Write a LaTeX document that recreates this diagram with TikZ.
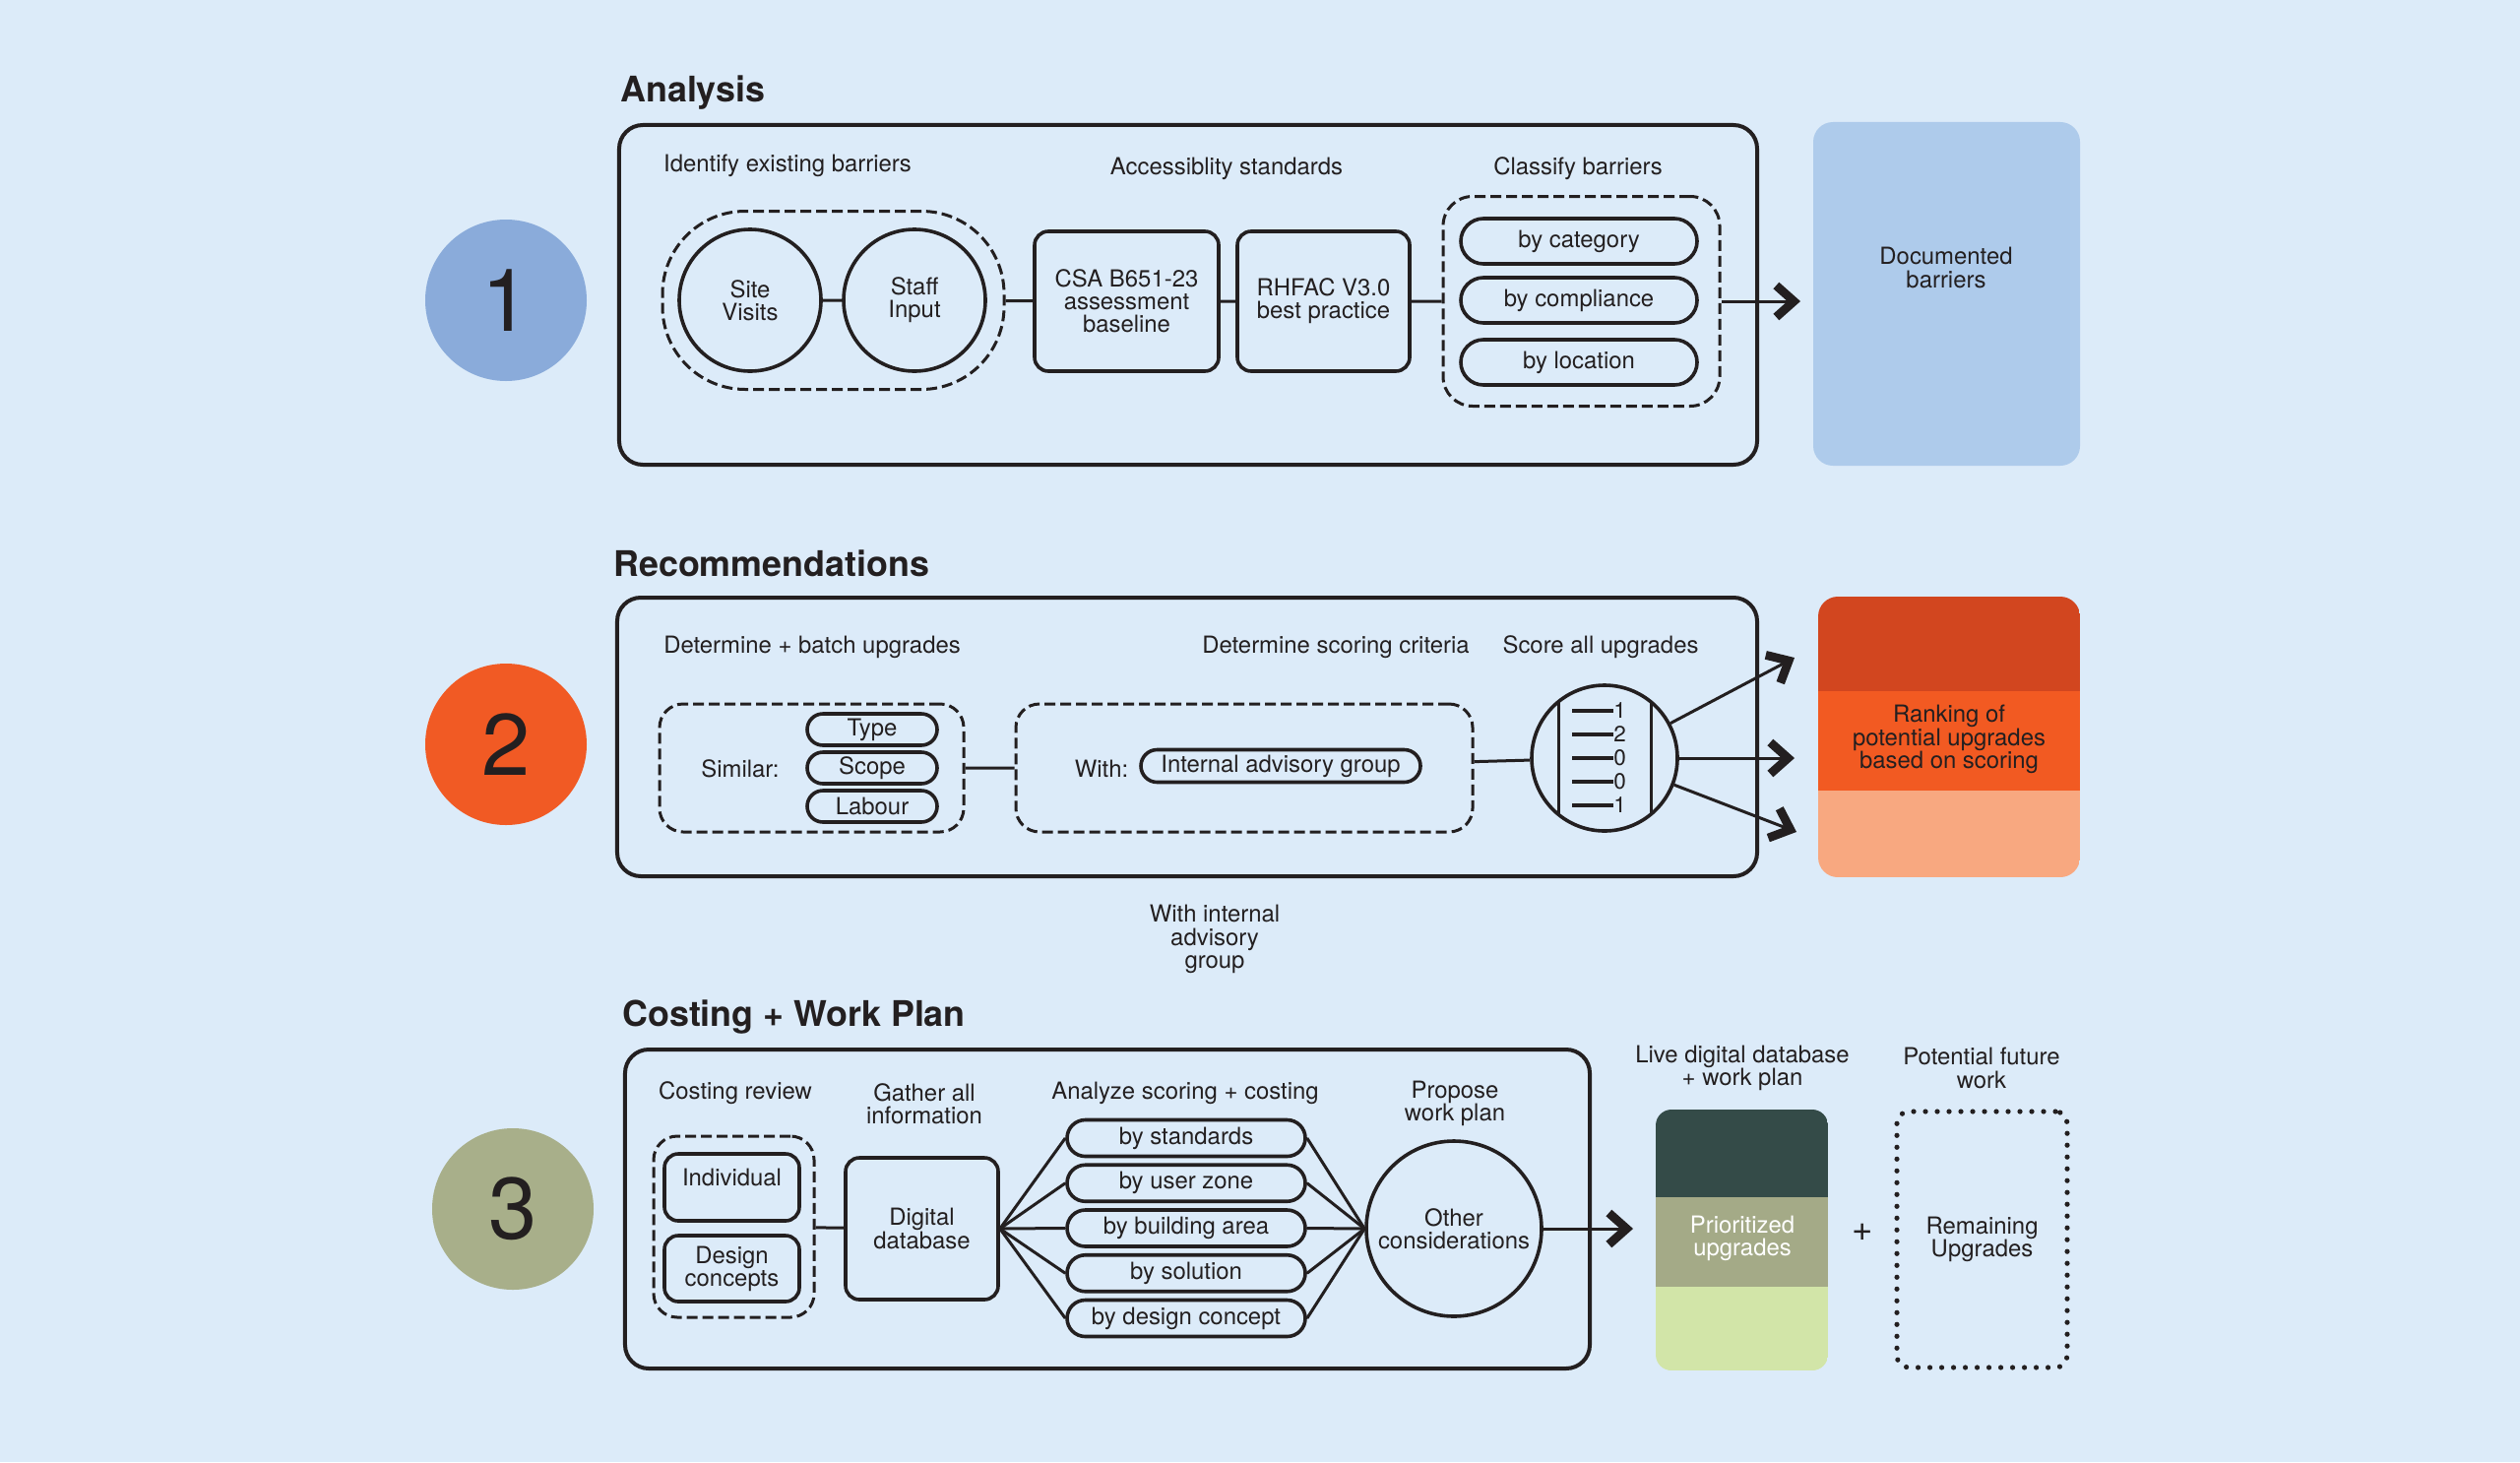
\documentclass[tikz,border=0pt]{standalone}
\usepackage{fontspec}
\setmainfont{TeX Gyre Heros}
\usepackage{tikz}
\usetikzlibrary{arrows.meta, shapes.misc, positioning}

\definecolor{bg}{HTML}{DCEBF9}
\definecolor{ink}{HTML}{231F20}
\definecolor{numblue}{HTML}{8AABDA}
\definecolor{numorange}{HTML}{F15A24}
\definecolor{numolive}{HTML}{A8AF8A}
\definecolor{docblue}{HTML}{AECBEB}
\definecolor{ranktop}{HTML}{D2461F}
\definecolor{rankmid}{HTML}{F25A22}
\definecolor{ranklow}{HTML}{F8A880}
\definecolor{plandark}{HTML}{344B48}
\definecolor{planmid}{HTML}{A4AA87}
\definecolor{planlow}{HTML}{D2E5A8}

\newcommand{\lblfont}{\fontsize{17}{16.5}\selectfont}

\tikzset{
	lbl/.style={align=center, text=ink, font=\lblfont, inner sep=0pt},
	heading/.style={anchor=base west, text=ink, inner sep=0pt, font=\fontsize{25.5}{26}\selectfont\bfseries},
	numdisc/.style={circle, minimum size=41mm, inner sep=0pt, text=ink, font=\fontsize{63}{63}\selectfont},
	stagebox/.style={draw=ink, line width=1mm, rounded corners=6mm},
	dashgroup/.style={draw=ink, line width=0.75mm, dash pattern=on 2.75mm off 1.25mm, rounded corners=6mm},
	pill/.style={lbl, rounded rectangle, draw=ink, line width=0.9mm},
	rbox/.style={lbl, draw=ink, line width=0.9mm, rounded corners=3.5mm},
	circ/.style={lbl, circle, draw=ink, line width=0.9mm},
	link/.style={draw=ink, line width=0.75mm},
	arr/.style={link, -{Straight Barb[length=4.5mm,width=8mm,line width=2.2mm]}},
}

\begin{document}
\begin{tikzpicture}[x=0.25mm, y=-0.25mm]
		\fill[bg] (0,0) rectangle (2560,1485);
		\useasboundingbox (0,0) rectangle (2560,1485);
		
		% analysis
		\node[numdisc, fill=numblue] (n1) at (514,305) {1};
		\node[heading] (h1) at (630,103) {Analysis};
		\node[stagebox, minimum width=289mm, minimum height=86.25mm] (s1) at (1207,299.5) {};
		\node[lbl] (l1a) at (800,168) {Identify existing barriers};
		\node[lbl] (l1b) at (1246,171) {Accessiblity standards};
		\node[lbl] (l1c) at (1603,171) {Classify barriers};
		\node[dashgroup, rounded corners=21mm, minimum width=86.75mm, minimum height=45.25mm] (g1) at (846.5,305) {};
		\node[circ, minimum size=36mm] (site) at (762,305) {Site\\Visits};
		\node[circ, minimum size=36mm] (staff) at (929,305) {Staff\\Input};
		\node[rbox, minimum width=46.75mm, minimum height=35.5mm] (csa) at (1144.5,306) {CSA B651-23\\assessment\\baseline};
		\node[rbox, minimum width=43.75mm, minimum height=35.5mm] (rhfac) at (1344.5,306) {RHFAC V3.0\\best practice};
		\node[dashgroup, rounded corners=7.5mm, minimum width=70.25mm, minimum height=53.25mm] (cls) at (1606.5,306) {};
		\node[pill, minimum width=60mm, minimum height=11.5mm] (bycat) at (1604,245) {by category};
		\node[pill, minimum width=60mm, minimum height=11.5mm] (bycomp) at (1604,305) {by compliance};
		\node[pill, minimum width=60mm, minimum height=11.5mm] (byloc) at (1604,368) {by location};
		\node[fill=docblue, rounded corners=5mm, minimum width=67.75mm, minimum height=87.25mm] (doc) at (1977.5,298.5) {};
		\node[lbl] (doctxt) at (1977,272) {Documented\\barriers};
		\coordinate (a1) at (1829,306);
		
		\path[link] (site) -- (staff)
		(g1) -- (csa)
		(csa) -- (rhfac)
		(rhfac) -- (cls);
		\draw[arr] (cls.east) -- (a1);
		
		% recommendations
		\node[numdisc, fill=numorange] (n2) at (514,756) {2};
		\node[heading] (h2) at (623,585) {Recommendations};
		\node[stagebox, minimum width=289.5mm, minimum height=70.75mm] (s2) at (1206,748.5) {};
		\node[lbl] (l2a) at (825,657) {Determine + batch upgrades};
		\node[lbl] (l2b) at (1357,657) {Determine scoring criteria};
		\node[lbl] (l2c) at (1626,657) {Score all upgrades};
		\node[dashgroup, minimum width=77.25mm, minimum height=32.5mm] (gA) at (824.5,780) {};
		\node[lbl] (similar) at (752,781) {Similar:};
		\node[pill, minimum width=33mm, minimum height=8mm] (type) at (886,741) {Type};
		\node[pill, minimum width=33mm, minimum height=8mm] (scope) at (886,780) {Scope};
		\node[pill, minimum width=33mm, minimum height=8mm] (labour) at (886,819) {Labour};
		\node[dashgroup, minimum width=116mm, minimum height=32.5mm] (gB) at (1264,780) {};
		\node[lbl] (with) at (1119,781) {With:};
		\node[pill, minimum width=71mm, minimum height=8.25mm] (iag) at (1301,778) {Internal advisory group};
		\node[circ, minimum size=37mm] (score) at (1630,770) {};
		\draw[link] (1583,713) -- (1583,827);
		\draw[link] (1677,713) -- (1677,827);
		\foreach \v [count=\i] in {1,2,0,0,1} {
			\draw[link, line width=1mm] (1597,{697.5+24*\i}) -- (1639,{697.5+24*\i});
			\node[lbl, anchor=west, font=\fontsize{16}{16}\selectfont] (sc\i) at (1639,{697.5+24*\i}) {\v};
		}
		\begin{scope}
			\clip[rounded corners=5mm] (1847,606) rectangle (2113,891);
			\fill[ranktop] (1847,606) rectangle (2113,702);
			\fill[rankmid] (1847,702) rectangle (2113,803);
			\fill[ranklow] (1847,803) rectangle (2113,891);
		\end{scope}
		\node[lbl] (rank) at (1980,751) {Ranking of\\potential upgrades\\based on scoring};
		\node[lbl] (advisory) at (1234,954) {With internal\\advisory\\group};
		\coordinate (r1) at (1823,668);
		\coordinate (r2) at (1823,770);
		\coordinate (r3) at (1825,845);
		
		\path[link] (gA) -- (gB)
		(gB) -- (score);
		\foreach \r in {r1,r2,r3}
		\draw[arr] (score) -- (\r);
		
		% costing + work plan
		\node[numdisc, fill=numolive] (n3) at (521,1228) {3};
		\node[heading] (h3) at (632,1042) {Costing + Work Plan};
		\node[stagebox, minimum width=245mm, minimum height=81mm] (s3) at (1125,1228) {};
		\node[lbl] (l3a) at (747,1110) {Costing review};
		\node[lbl] (l3b) at (939,1121) {Gather all\\information};
		\node[lbl] (l3c) at (1204,1110) {Analyze scoring + costing};
		\node[lbl] (l3d) at (1478,1121) {Propose\\work plan};
		\node[dashgroup, minimum width=40.75mm, minimum height=46mm] (gC) at (745.5,1246) {};
		\node[rbox, minimum width=34.25mm, minimum height=17mm] (indiv) at (743.5,1206) {};
		\node[lbl] (indivtxt) at (743.5,1196) {Individual};
		\node[rbox, minimum width=34.25mm, minimum height=16.75mm] (design) at (743.5,1288.5) {Design\\concepts};
		\node[rbox, minimum width=38.75mm, minimum height=36mm] (db) at (936.5,1248) {Digital\\database};
		\foreach \t [count=\i] in {by standards, by user zone, by building area, by solution, by design concept}
		\node[pill, minimum width=60.5mm, minimum height=9.25mm] (p\i) at (1205,{1110.25+45.75*\i}) {\t};
		\node[circ, minimum size=44.5mm] (other) at (1477,1248) {Other\\considerations};
		\coordinate (a3) at (1659,1248);
		
		\path[link] (gC) -- (db);
		\foreach \i in {1,...,5} {
			\draw[link] (db.east) -- (p\i.west);
			\draw[link] (p\i.east) -- (other.west);
		}
		\draw[arr] (other) -- (a3);
		
		% results
		\node[lbl] (live) at (1770,1085) {Live digital database\\+ work plan};
		\begin{scope}
			\clip[rounded corners=4mm] (1682,1127) rectangle (1857,1392);
			\fill[plandark] (1682,1127) rectangle (1857,1216);
			\fill[planmid] (1682,1216) rectangle (1857,1307);
			\fill[planlow] (1682,1307) rectangle (1857,1392);
		\end{scope}
		\node[lbl, text=white] (prio) at (1770,1258) {Prioritized\\upgrades};
		\node[lbl, font=\fontsize{26}{26}\selectfont] (plus) at (1892,1252) {+};
		\node[lbl] (future) at (2013,1085) {Potential future\\work};
		\node[lbl, draw=ink, line width=1.3mm, line cap=round, dash pattern=on 0pt off 3mm, rounded corners=3mm, minimum width=43.25mm, minimum height=65mm] (remain) at (2013.5,1259) {Remaining\\Upgrades};
\end{tikzpicture}
\end{document}
